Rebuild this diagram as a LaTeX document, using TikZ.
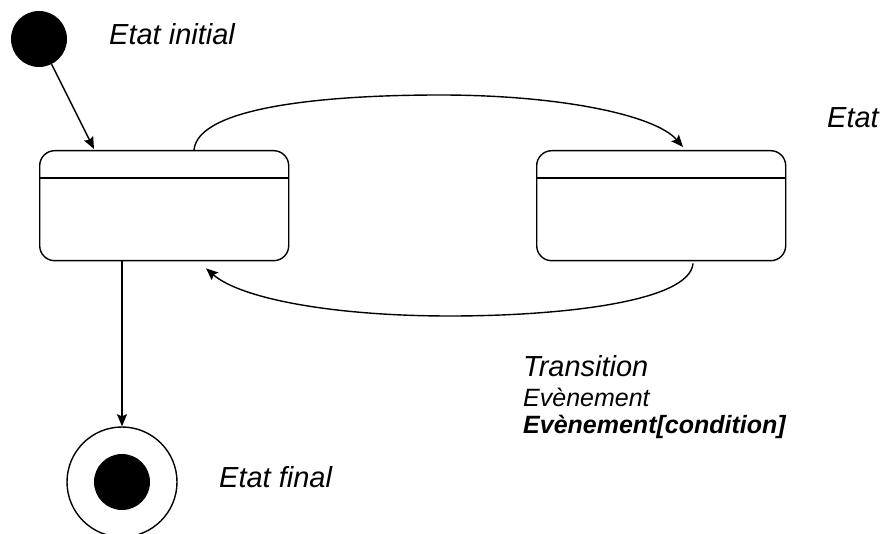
\documentclass[tikz,border=0pt]{standalone}
\usepackage{fontspec}
\setmainfont{Liberation Sans}
\usetikzlibrary{arrows.meta}
\begin{document}
\begin{tikzpicture}[x=1pt,y=-1pt,
  statebox/.style={draw,line width=1.4pt,rounded corners=15pt,minimum width=249pt,minimum height=110pt,inner sep=0pt,anchor=north west},
  arr/.style={line width=1.4pt,-{Stealth[length=12pt,width=10pt,inset=2pt]}},
  bigtxt/.style={font=\fontsize{29}{32}\selectfont\itshape,anchor=base west,inner sep=0pt},
  smalltxt/.style={font=\fontsize{25}{28}\selectfont\itshape,anchor=base west,inner sep=0pt}]
\useasboundingbox (0,0) rectangle (884,534);
\node[circle,fill=black,minimum size=56pt,inner sep=0pt] (init) at (39,39) {};
\node[bigtxt] (tinit) at (109,45) {Etat initial};
\node[statebox] (L) at (39,150) {};
\node[statebox] (R) at (536,150) {};
\draw[line width=2.2pt] ([yshift=-28pt]L.north west) -- ([yshift=-28pt]L.north east);
\draw[line width=2.2pt] ([yshift=-28pt]R.north west) -- ([yshift=-28pt]R.north east);
\node[bigtxt] (tetat) at (827,128) {Etat};
\node[circle,draw,line width=1.4pt,minimum size=110pt,inner sep=0pt] (final) at (122,482) {};
\node[circle,fill=black,minimum size=56pt,inner sep=0pt] (finalin) at (122,482) {};
\node[bigtxt] (tfinal) at (219,488) {Etat final};
\node[bigtxt] (ttrans) at (523,377) {Transition};
\node[smalltxt] (tev) at (523,407) {Evènement};
\node[smalltxt,font=\fontsize{25}{28}\selectfont\bfseries\itshape] (tevc) at (523,434) {Evènement[condition]};
\coordinate (initend) at ([xshift=55pt,yshift=1pt]L.north west);
\draw[arr] (init) -- (initend);
\coordinate (topstart) at ([xshift=155pt]L.north west);
\coordinate (topend) at ([xshift=147pt,yshift=3pt]R.north west);
\draw[arr] (topstart) .. controls (198,106) and (330,95) .. (440,95) .. controls (560,95) and (655,115) .. (topend);
\coordinate (botstart) at ([xshift=157pt,yshift=-2pt]R.south west);
\coordinate (botend) at ([xshift=167pt,yshift=-7pt]L.south west);
\draw[arr] (botstart) .. controls (690,302) and (560,316) .. (450,316) .. controls (330,316) and (240,298) .. (botend);
\coordinate (finstart) at ([xshift=83pt]L.south west);
\draw[arr] (finstart) -- (final.north);
\end{tikzpicture}
\end{document}
